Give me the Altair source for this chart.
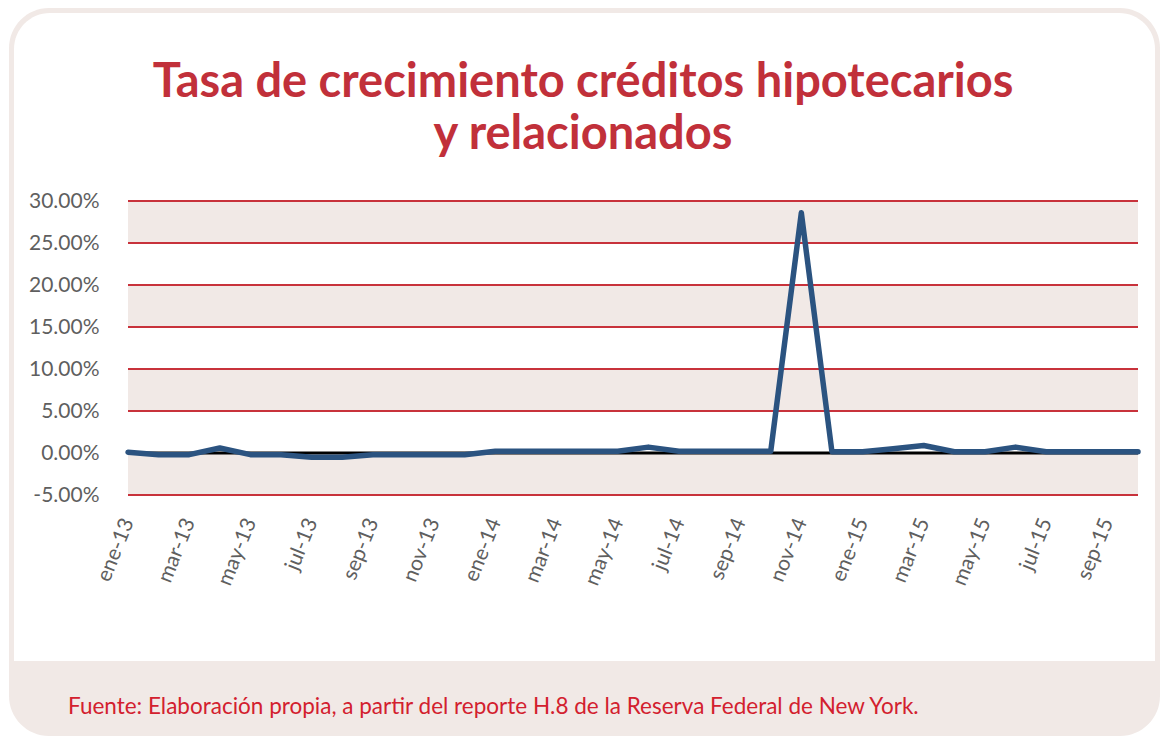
import altair as alt
import pandas as pd

# ---- data ----
meses = ["ene-13", "feb-13", "mar-13", "abr-13", "may-13", "jun-13", "jul-13", "ago-13",
         "sep-13", "oct-13", "nov-13", "dic-13",
         "ene-14", "feb-14", "mar-14", "abr-14", "may-14", "jun-14", "jul-14", "ago-14",
         "sep-14", "oct-14", "nov-14", "dic-14",
         "ene-15", "feb-15", "mar-15", "abr-15", "may-15", "jun-15", "jul-15", "ago-15",
         "sep-15", "oct-15"]
tasa = [0.1, -0.2, -0.2, 0.6, -0.2, -0.2, -0.5, -0.5, -0.2, -0.2, -0.2, -0.2,
        0.2, 0.2, 0.2, 0.2, 0.2, 0.7, 0.2, 0.2, 0.2, 0.2, 28.6, 0.15,
        0.15, 0.5, 0.9, 0.15, 0.15, 0.7, 0.15, 0.15, 0.15, 0.15]
y_ticks = [-5, 0, 5, 10, 15, 20, 25, 30]
grid_vals = [-5, 5, 10, 15, 20, 25, 30]
band_lo = [-5, 5, 15, 25]
band_hi = [0, 10, 20, 30]
x_labels = meses[::2]

titulo = ["Tasa de crecimiento créditos hipotecarios", "y relacionados"]
fuente = "Fuente: Elaboración propia, a partir del reporte H.8 de la Reserva Federal de New York."

# ---- layout ----
W, H = 1010, 294
BEIGE = "#f1e9e6"
RED_GRID = "#c8323b"
BLUE = "#2b5380"
TITLE_RED = "#c1303a"
FONT = "Lato"

df = pd.DataFrame({"mes": meses, "tasa": tasa})
bands = pd.DataFrame({"lo": band_lo, "hi": band_hi})
grid = pd.DataFrame({"v": grid_vals})
zero = pd.DataFrame({"v": [0]})
one = pd.DataFrame({"a": [0]})

yscale = alt.Scale(domain=[-5, 30], nice=False, zero=False)
xscale = alt.Scale(type="point", padding=0)

card_outer = alt.Chart(one).mark_rect(fill=BEIGE, cornerRadius=40).encode(
    x=alt.value(-119), x2=alt.value(1032), y=alt.value(-193), y2=alt.value(535))
card_inner = alt.Chart(one).mark_rect(
    fill="white", cornerRadiusTopLeft=36, cornerRadiusTopRight=36).encode(
    x=alt.value(-114), x2=alt.value(1027), y=alt.value(-188), y2=alt.value(460))

band_layer = alt.Chart(bands).mark_rect(fill=BEIGE).encode(
    y=alt.Y("lo:Q", scale=yscale), y2="hi:Q", x=alt.value(0), x2=alt.value(W))
grid_layer = alt.Chart(grid).mark_rule(color=RED_GRID, strokeWidth=2).encode(
    y=alt.Y("v:Q", scale=yscale), x=alt.value(0), x2=alt.value(W))
zero_layer = alt.Chart(zero).mark_rule(color="black", strokeWidth=3).encode(
    y=alt.Y("v:Q", scale=yscale), x=alt.value(0), x2=alt.value(W))

line = alt.Chart(df).mark_line(color=BLUE, strokeWidth=5.5, strokeCap="round",
                               strokeJoin="round").encode(
    x=alt.X("mes:O", sort=meses, scale=xscale, title=None,
            axis=alt.Axis(values=x_labels, labelAngle=292, labelAlign="right",
                          labelBaseline="middle", labelPadding=24, ticks=False,
                          domain=False, grid=False, labelFont=FONT, labelFontSize=21,
                          labelColor="#5f5f5f", zindex=1, labelOverlap=False)),
    y=alt.Y("tasa:Q", scale=yscale, title=None,
            axis=alt.Axis(values=y_ticks, ticks=False, domain=False, grid=False,
                          labelExpr="(datum.value < 0 ? '-' : '') + format(abs(datum.value), '.2f') + '%'",
                          labelFont=FONT, labelFontSize=21, labelColor="#5f5f5f",
                          labelPadding=29, zindex=1)),
)

title_layer = alt.Chart(one).mark_text(
    font=FONT, fontWeight="bold", fontSize=47, color=TITLE_RED, lineHeight=52,
    align="center", baseline="alphabetic").encode(
    x=alt.value(455), y=alt.value(-104), text=alt.value(titulo))
src = alt.Chart(one).mark_text(font=FONT, fontSize=22.5, color="#d3202e",
                               align="left", baseline="alphabetic").encode(
    x=alt.value(-60), y=alt.value(513), text=alt.value(fuente))

chart = alt.layer(card_outer, card_inner, band_layer, grid_layer, zero_layer, line,
                  title_layer, src).properties(
    width=W, height=H,
    padding={"left": 120, "top": 193, "right": 23, "bottom": 241},
    autosize=alt.AutoSizeParams(type="none"),
).configure_view(stroke=None).configure(background="white")

chart.save("out.html", embed_options={"renderer": "svg", "actions": False})
